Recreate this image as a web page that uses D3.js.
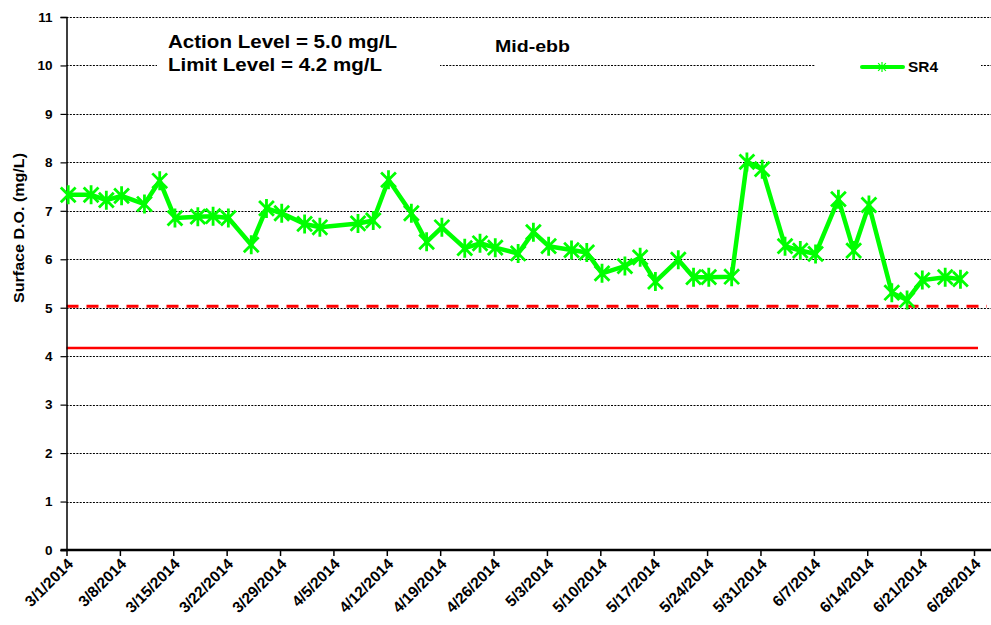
<!DOCTYPE html>
<html><head><meta charset="utf-8">
<script src="https://cdn.jsdelivr.net/npm/d3@7/dist/d3.min.js"></script>
<style>body{margin:0;background:#fff;}svg{display:block;font-family:"Liberation Sans",Arial,sans-serif;}</style>
</head><body>
<svg id="c" width="991" height="625"></svg>
<script>
const dates = ["2014-03-01","2014-03-04","2014-03-06","2014-03-08","2014-03-11","2014-03-13","2014-03-15","2014-03-18","2014-03-20","2014-03-22","2014-03-25","2014-03-27","2014-03-29","2014-04-01","2014-04-03","2014-04-08","2014-04-10","2014-04-12","2014-04-15","2014-04-17","2014-04-19","2014-04-22","2014-04-24","2014-04-26","2014-04-29","2014-05-01","2014-05-03","2014-05-06","2014-05-08","2014-05-10","2014-05-13","2014-05-15","2014-05-17","2014-05-20","2014-05-22","2014-05-24","2014-05-27","2014-05-29","2014-05-31","2014-06-03","2014-06-05","2014-06-07","2014-06-10","2014-06-12","2014-06-14","2014-06-17","2014-06-19","2014-06-21","2014-06-24","2014-06-26"];
const sr4 = [7.33,7.33,7.22,7.31,7.14,7.62,6.85,6.88,6.89,6.85,6.30,7.05,6.95,6.73,6.66,6.74,6.80,7.64,6.95,6.36,6.66,6.23,6.33,6.24,6.12,6.56,6.27,6.19,6.14,5.71,5.86,6.04,5.54,5.99,5.63,5.63,5.64,8.01,7.86,6.27,6.18,6.11,7.24,6.18,7.12,5.31,5.16,5.57,5.63,5.59];
const xTickLabels = ["3/1/2014","3/8/2014","3/15/2014","3/22/2014","3/29/2014","4/5/2014","4/12/2014","4/19/2014","4/26/2014","5/3/2014","5/10/2014","5/17/2014","5/24/2014","5/31/2014","6/7/2014","6/14/2014","6/21/2014","6/28/2014"];
const yTicks = [0,1,2,3,4,5,6,7,8,9,10,11];
const actionLevel = 5.0;
const limitLevel = 4.2;
const seriesName = "SR4";
const titleText = "Mid-ebb";
const noteLines = ["Action Level = 5.0 mg/L","Limit Level = 4.2 mg/L"];
const yTitle = "Surface D.O. (mg/L)";

const parse = d3.utcParse("%Y-%m-%d");
const parseTick = d3.utcParse("%m/%d/%Y");
const data = dates.map((d,i)=>({date:parse(d), v:sr4[i]}));
const tickDates = xTickLabels.map(s=>parseTick(s));

const svg = d3.select("#c");
const plotLeft = 66.5, plotRightEnd = 991, plotTop = 17, plotBottom = 550;
const x = d3.scaleUtc().domain([tickDates[0], tickDates[tickDates.length-1]]).range([66.5, 974]);
const y = d3.scaleLinear().domain([0,11]).range([plotBottom, plotTop]);

// gridlines
svg.append("g").selectAll("line").data(yTicks.filter(t=>t>0)).join("line")
  .attr("x1", plotLeft).attr("x2", plotRightEnd)
  .attr("y1", d=>Math.round(y(d))+0.5).attr("y2", d=>Math.round(y(d))+0.5)
  .attr("stroke","#000").attr("stroke-width",1.2).attr("stroke-dasharray","2,1.3");

// white boxes for notes and legend
svg.append("rect").attr("x",157).attr("y",24).attr("width",283).attr("height",52).attr("fill","#fff");
svg.append("rect").attr("x",815).attr("y",54).attr("width",166).attr("height",26).attr("fill","#fff");

// reference lines
svg.append("line").attr("x1",plotLeft).attr("x2",987).attr("y1",y(actionLevel)-1.5).attr("y2",y(actionLevel)-1.5)
  .attr("stroke","#ff0000").attr("stroke-width",3).attr("stroke-dasharray","12,8");
svg.append("line").attr("x1",plotLeft).attr("x2",978).attr("y1",y(limitLevel)+1.5).attr("y2",y(limitLevel)+1.5)
  .attr("stroke","#ff0000").attr("stroke-width",2.5);

// y axis
const yAxis = d3.axisLeft(y).tickValues(yTicks).tickSize(6).tickPadding(8).tickFormat(d3.format("d"));
const gy = svg.append("g").attr("transform",`translate(${plotLeft},0)`).call(yAxis);
gy.select(".domain").attr("stroke","#000").attr("stroke-width",1.5);
gy.selectAll(".tick line").attr("stroke","#000").attr("stroke-width",1.2);
gy.selectAll(".tick text").attr("font-size","13.5px").attr("font-weight","bold").attr("fill","#000")
  .attr("font-family","'Liberation Sans',Arial,sans-serif");

// x axis
const xAxis = d3.axisBottom(x).tickValues(tickDates).tickSize(6).tickFormat((d,i)=>xTickLabels[i]);
const gx = svg.append("g").attr("transform",`translate(0,${plotBottom})`).call(xAxis);
gx.select(".domain").remove();
gx.append("line").attr("x1",plotLeft-6).attr("x2",plotRightEnd).attr("y1",0).attr("y2",0).attr("stroke","#000").attr("stroke-width",2.5);
gx.selectAll(".tick line").attr("stroke","#000").attr("stroke-width",1.5);
gx.selectAll(".tick text").attr("font-size","15.5px").attr("font-weight","bold").attr("fill","#000")
  .attr("font-family","'Liberation Sans',Arial,sans-serif")
  .attr("text-anchor","end").attr("dy",null).attr("y",0)
  .attr("transform","translate(7,15) rotate(-45)");

// y title
svg.append("text").attr("transform","translate(24,228) rotate(-90)").attr("text-anchor","middle")
  .attr("font-size","14px").attr("font-weight","bold")
  .attr("textLength",150).attr("lengthAdjust","spacingAndGlyphs").text(yTitle);

// series line (small offset to match reference marker placement)
const gs = svg.append("g").attr("transform","translate(1.7,0)");
const line = d3.line().x(d=>x(d.date)).y(d=>y(d.v));
gs.append("path").datum(data).attr("d",line).attr("fill","none").attr("stroke","#00ff00")
  .attr("stroke-width",4.5).attr("stroke-linejoin","round");

// star markers
function starPath(r){
  const a = r*0.78;
  return `M${-a},${-a}L${a},${a}M${-a},${a}L${a},${-a}M0,${-r}L0,${r}`;
}
gs.append("g").selectAll("path").data(data).join("path")
  .attr("transform",d=>`translate(${x(d.date)},${y(d.v)})`)
  .attr("d",starPath(9.5)).attr("stroke","#00ff00").attr("stroke-width",2.8).attr("fill","none");

// notes
svg.append("text").attr("x",168).attr("y",48).attr("font-size","18px").attr("font-weight","bold")
  .attr("textLength",229).attr("lengthAdjust","spacingAndGlyphs").text(noteLines[0]);
svg.append("text").attr("x",168).attr("y",71).attr("font-size","18px").attr("font-weight","bold")
  .attr("textLength",214).attr("lengthAdjust","spacingAndGlyphs").text(noteLines[1]);
svg.append("text").attr("x",495).attr("y",52).attr("font-size","16.5px").attr("font-weight","bold")
  .attr("textLength",75).attr("lengthAdjust","spacingAndGlyphs").text(titleText);

// legend
svg.append("line").attr("x1",862).attr("x2",903).attr("y1",67).attr("y2",67).attr("stroke","#00ff00").attr("stroke-width",4).attr("stroke-linecap","round");
svg.append("path").attr("transform","translate(882,67)").attr("d",starPath(5)).attr("stroke","#00ff00").attr("stroke-width",1.2).attr("fill","none");
svg.append("text").attr("x",908).attr("y",72).attr("font-size","14px").attr("font-weight","bold")
  .attr("textLength",30).attr("lengthAdjust","spacingAndGlyphs").text(seriesName);
</script>
</body></html>
